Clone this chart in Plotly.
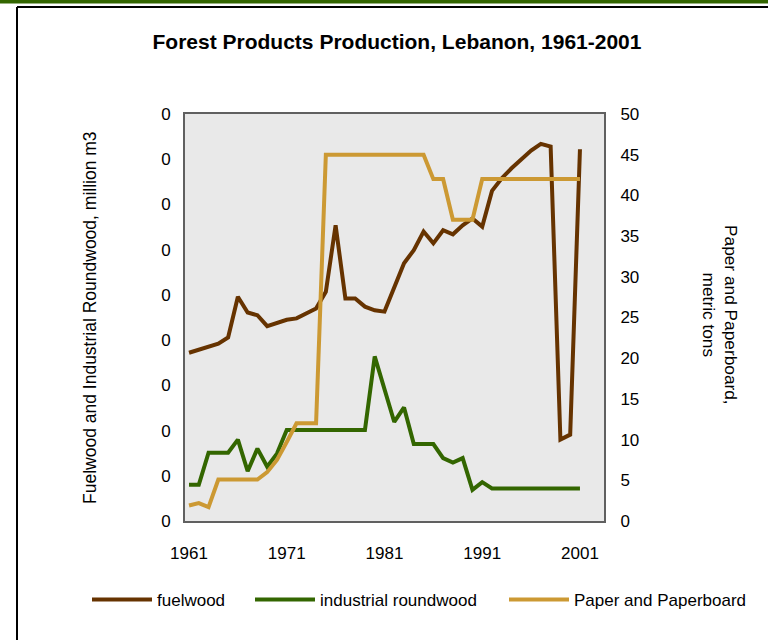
import plotly.graph_objects as go

years = list(range(1961, 2002))

fuelwood = [0.186, 0.189, 0.1925, 0.196, 0.203, 0.248, 0.2305, 0.2275, 0.2155, 0.219,
            0.2225, 0.224, 0.2295, 0.235, 0.2535, 0.327, 0.246, 0.246, 0.237, 0.233,
            0.2315, 0.259, 0.285, 0.2995, 0.320, 0.307, 0.3215, 0.317, 0.327, 0.3345,
            0.3255, 0.365, 0.379, 0.390, 0.400, 0.4095, 0.417, 0.414, 0.090, 0.0955,
            0.411]

industrial = [0.040, 0.040, 0.0755, 0.0755, 0.0755, 0.090, 0.055, 0.080, 0.060, 0.0745,
              0.1005, 0.1005, 0.1005, 0.1005, 0.1005, 0.1005, 0.1005, 0.1005, 0.1005, 0.182,
              0.146, 0.1095, 0.1255, 0.085, 0.085, 0.085, 0.0695, 0.0645, 0.0695, 0.0345,
              0.043, 0.036, 0.036, 0.036, 0.036, 0.036, 0.036, 0.036, 0.036, 0.036,
              0.036]

paper = [1.9, 2.2, 1.7, 5.1, 5.1, 5.1, 5.1, 5.1, 6.0, 7.5,
         9.7, 12.0, 12.0, 12.0, 45, 45, 45, 45, 45, 45,
         45, 45, 45, 45, 45, 42, 42, 37, 37, 37,
         42, 42, 42, 42, 42, 42, 42, 42, 42, 42,
         42]

x_ticks = [1961, 1971, 1981, 1991, 2001]

FONT = "Liberation Sans, Arial, sans-serif"
W, H = 768, 640


def px(xp):
    return xp / W


def py(yp):
    return (H - yp) / H


fig = go.Figure()
fig.add_trace(go.Scatter(x=years, y=fuelwood, name="fuelwood", mode="lines",
                         line=dict(color="#663300", width=4), legend="legend"))
fig.add_trace(go.Scatter(x=years, y=industrial, name="industrial roundwood", mode="lines",
                         line=dict(color="#336600", width=4), legend="legend2"))
fig.add_trace(go.Scatter(x=years, y=paper, name="Paper and Paperboard", mode="lines",
                         line=dict(color="#CC9933", width=4), yaxis="y2", legend="legend3"))

LEG_OFF = 8  # distance from legend box edge to symbol start


def leg(xstart):
    return dict(orientation="h", x=px(xstart - LEG_OFF), xanchor="left",
                y=py(600), yanchor="middle", font=dict(size=17), itemwidth=60,
                bgcolor="rgba(0,0,0,0)", borderwidth=0)


fig.update_layout(
    width=W, height=H,
    margin=dict(l=0, r=0, t=0, b=0, pad=0, autoexpand=False),
    paper_bgcolor="white",
    plot_bgcolor="#E9E9E9",
    font=dict(family=FONT, color="black"),
    title=dict(text="<b>Forest Products Production, Lebanon, 1961-2001</b>",
               x=px(397), xanchor="center", y=py(42), yanchor="middle",
               font=dict(size=21, family=FONT, color="black")),
    xaxis=dict(domain=[px(185), px(604)], range=[1960.59, 2003.46], automargin=False,
               tickvals=x_ticks, ticktext=[str(v) for v in x_ticks],
               showgrid=False, zeroline=False, showline=True, mirror=True,
               linecolor="#606060", linewidth=2, ticks="outside", ticklen=16,
               tickcolor="rgba(0,0,0,0)", tickfont=dict(size=17)),
    yaxis=dict(domain=[py(521), py(114)], range=[0, 0.45], dtick=0.05, tick0=0,
               tickformat=".0f", automargin=False,
               showgrid=False, zeroline=False, showline=True, mirror=True,
               linecolor="#606060", linewidth=2, ticks="outside", ticklen=9,
               tickcolor="rgba(0,0,0,0)", tickfont=dict(size=17)),
    yaxis2=dict(range=[0, 50], dtick=5, tick0=0, overlaying="y", side="right",
                automargin=False,
                showgrid=False, zeroline=False, showline=False,
                ticks="outside", ticklen=12, tickcolor="rgba(0,0,0,0)",
                tickfont=dict(size=17)),
    legend=leg(95),
    legend2=leg(258),
    legend3=leg(512),
    showlegend=True,
    annotations=[
        dict(text="Fuelwood and Industrial Roundwood, million m3", textangle=-90,
             x=px(90), y=py(318), xref="paper", yref="paper", showarrow=False,
             xanchor="center", yanchor="middle", font=dict(size=17.5)),
        dict(text="Paper and Paperboard,<br>metric tons", textangle=90,
             x=px(720), y=py(315), xref="paper", yref="paper", showarrow=False,
             xanchor="center", yanchor="middle", font=dict(size=17.3)),
    ],
    shapes=[
        dict(type="rect", xref="paper", yref="paper", x0=0, x1=1, y0=py(3.5), y1=1,
             fillcolor="#336600", line=dict(width=0)),
        dict(type="line", xref="paper", yref="paper", x0=px(17), x1=1, y0=py(7), y1=py(7),
             line=dict(color="black", width=2)),
        dict(type="line", xref="paper", yref="paper", x0=px(17), x1=px(17), y0=py(7), y1=0,
             line=dict(color="black", width=2)),
    ],
)

fig.write_html("out.html", config={"displayModeBar": False},
               post_script="document.body.style.margin='0';document.body.style.overflow='hidden';")
